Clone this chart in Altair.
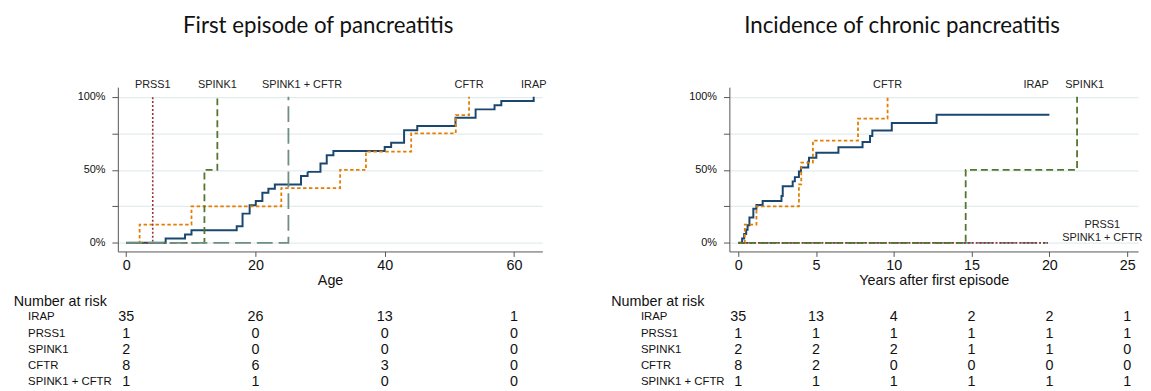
import altair as alt
import pandas as pd

# ---------------- data ----------------
groups = ["IRAP", "PRSS1", "SPINK1", "CFTR", "SPINK1 + CFTR"]
colors = ["#1a476f", "#90353b", "#55752f", "#e37e00", "#6e8e84"]
dashes = [[1, 0], [2, 2], [7, 4], [3.5, 2.5], [16, 6]]
widths = [2.0, 1.6, 1.8, 1.8, 1.8]

# Left panel: first episode of pancreatitis by age (cumulative %, step)
age_irap_t = [0, 6.1, 9.1, 10.1, 17.1, 18.0, 19.1, 20.05, 21.07, 22.0, 23.0, 27.05, 28.07,
              30.06, 31.03, 32.06, 40.0, 41.0, 43.0, 45.04, 50.96, 54.07, 57.0, 58.05, 63.06]
age_irap_p = [0, 2.9, 5.7, 8.6, 11.4, 20.0, 25.7, 28.6, 34.3, 37.1, 40.0, 45.7, 48.6,
              54.3, 60.0, 62.9, 65.7, 68.6, 77.1, 80.0, 85.7, 91.4, 94.3, 97.1, 100]
age_prss1_t = [0, 4.1]
age_prss1_p = [0, 100]
age_spink1_t = [0, 12.1, 14.1]
age_spink1_p = [0, 50, 100]
age_cftr_t = [0, 2.07, 10.1, 24.0, 33.1, 37.1, 44.1, 51.0, 53.06]
age_cftr_p = [0, 12.5, 25, 37.5, 50, 62.5, 75, 87.5, 100]
age_spc_t = [0, 25.1]
age_spc_p = [0, 100]

# Right panel: incidence of chronic pancreatitis, years after first episode
yrs_irap_t = [0, 0.25, 0.38, 0.51, 0.6, 0.72, 0.97, 1.17, 1.57, 2.78, 2.86, 3.5, 3.64,
              3.9, 4.03, 4.5, 4.55, 5.02, 6.44, 7.99, 8.47, 8.62, 9.87, 12.75, 20.0]
yrs_irap_p = [0, 2.9, 6.1, 9.0, 12.0, 17.3, 23.4, 25.9, 28.6, 32.0, 38.7, 42.1, 45.0,
              48.9, 51.6, 55.6, 58.3, 61.7, 65.5, 69.1, 73.2, 77.0, 82.0, 87.8, 87.8]
yrs_prss1_t = [0, 19.9]
yrs_prss1_p = [0, 0]
yrs_spink1_t = [0, 14.62, 21.78]
yrs_spink1_p = [0, 50, 100]
yrs_cftr_t = [0, 0.42, 1.17, 3.9, 4.05, 4.8, 7.7, 9.6]
yrs_cftr_p = [0, 12.5, 25, 40, 55, 70, 85, 100]
yrs_spc_t = [0, 19.9]
yrs_spc_p = [0, 0]

# Number at risk
age_ticks = [0, 20, 40, 60]
age_risk = {
    "IRAP": [35, 26, 13, 1],
    "PRSS1": [1, 0, 0, 0],
    "SPINK1": [2, 0, 0, 0],
    "CFTR": [8, 6, 3, 0],
    "SPINK1 + CFTR": [1, 1, 0, 0],
}
yrs_ticks = [0, 5, 10, 15, 20, 25]
yrs_risk = {
    "IRAP": [35, 13, 4, 2, 2, 1],
    "PRSS1": [1, 1, 1, 1, 1, 1],
    "SPINK1": [2, 2, 2, 1, 1, 0],
    "CFTR": [8, 2, 0, 0, 0, 0],
    "SPINK1 + CFTR": [1, 1, 1, 1, 1, 1],
}

# Curve end labels (data units)
age_label_names = ["PRSS1", "SPINK1", "SPINK1 + CFTR", "CFTR", "IRAP"]
age_label_x = [4.1, 14.1, 27.2, 53.06, 63.06]
age_label_y = [108, 108, 108, 108, 108]
yrs_label_names = ["CFTR", "IRAP", "SPINK1", "PRSS1", "SPINK1 + CFTR"]
yrs_label_x = [9.6, 19.15, 22.27, 23.4, 23.4]
yrs_label_y = [108, 108, 108, 12.2, 3.1]

# ---------------- build ----------------
FONT = "Liberation Sans"
YDOM = [-5.9, 106.6]


def curves_df(series):
    rows = []
    for g, (ts, ps) in series.items():
        for t, p in zip(ts, ps):
            rows.append({"group": g, "t": t, "p": p})
    return pd.DataFrame(rows)


def risk_df(ticks, risk):
    rows = []
    for g in groups:
        for t, n in zip(ticks, risk[g]):
            rows.append({"group": g, "t": t, "n": n})
    return pd.DataFrame(rows)


def panel(curves, order, labels, risk, ticks, xdom, width, xtitle, title, title_dx,
          nar_dx, row_dx):
    xs = alt.Scale(domain=xdom, nice=False, zero=False)
    ys = alt.Scale(domain=YDOM, nice=False, zero=False)
    xaxis = alt.Axis(values=ticks, title=xtitle, format="d", grid=False,
                     labelFontSize=14.5, titleFontSize=14.5, tickSize=5,
                     labelPadding=2, titlePadding=2, labelFlush=False,
                     labelOverlap=False)
    yaxis = alt.Axis(values=[0, 25, 50, 75, 100], title=None, grid=True,
                     labelExpr="(datum.value == 0 || datum.value == 50 || datum.value == 100) ? datum.value + '%' : ''",
                     labelFontSize=11, tickSize=6, labelPadding=7,
                     gridColor="#e2ecef", gridWidth=1.2)
    X = alt.X("t:Q", scale=xs, axis=xaxis)
    Y = alt.Y("p:Q", scale=ys, axis=yaxis)

    layers = []
    base = alt.Chart(curves)
    for g in order:
        i = groups.index(g)
        layers.append(
            base.transform_filter(alt.datum.group == g)
            .mark_line(interpolate="step-after", color=colors[i],
                       strokeDash=dashes[i], strokeWidth=widths[i])
            .encode(x=X, y=Y)
        )
    layers.append(
        alt.Chart(labels).mark_text(font=FONT, fontSize=11, color="#222222",
                                    baseline="middle")
        .encode(x=X, y=Y, text="name:N")
    )
    # number at risk table
    layers.append(
        alt.Chart(pd.DataFrame({"s": ["Number at risk"]}))
        .mark_text(font=FONT, fontSize=14.5, align="left", baseline="middle",
                   color="#111111")
        .encode(x=alt.value(nar_dx), y=alt.value(216.7), text="s:N")
    )
    for k, g in enumerate(groups):
        yoff = 232.7 + 16.4 * k
        layers.append(
            alt.Chart(pd.DataFrame({"s": [g]}))
            .mark_text(font=FONT, fontSize=11.5, align="left", baseline="middle",
                       color="#111111")
            .encode(x=alt.value(row_dx), y=alt.value(yoff), text="s:N")
        )
        layers.append(
            alt.Chart(risk).transform_filter(alt.datum.group == g)
            .mark_text(font=FONT, fontSize=14.5, baseline="middle", color="#111111")
            .encode(x=X, y=alt.value(yoff), text="n:Q")
        )
    return alt.layer(*layers).properties(
        width=width, height=166,
        title=alt.TitleParams(title, font="Lato", fontSize=22.5, fontWeight="normal",
                              anchor="middle", frame="group", dx=title_dx,
                              offset=42, color="#111111"),
    )


left_curves = curves_df({
    "IRAP": (age_irap_t, age_irap_p),
    "PRSS1": (age_prss1_t, age_prss1_p),
    "SPINK1": (age_spink1_t, age_spink1_p),
    "CFTR": (age_cftr_t, age_cftr_p),
    "SPINK1 + CFTR": (age_spc_t, age_spc_p),
})
right_curves = curves_df({
    "IRAP": (yrs_irap_t, yrs_irap_p),
    "PRSS1": (yrs_prss1_t, yrs_prss1_p),
    "SPINK1": (yrs_spink1_t, yrs_spink1_p),
    "CFTR": (yrs_cftr_t, yrs_cftr_p),
    "SPINK1 + CFTR": (yrs_spc_t, yrs_spc_p),
})

left_labels = pd.DataFrame({"name": age_label_names, "t": age_label_x, "p": age_label_y})
right_labels = pd.DataFrame({"name": yrs_label_names, "t": yrs_label_x, "p": yrs_label_y})

left = panel(left_curves, ["IRAP", "CFTR", "PRSS1", "SPINK1", "SPINK1 + CFTR"],
             left_labels, risk_df(age_ticks, age_risk), age_ticks, [-1.3, 64.4], 429,
             "Age", "First episode of pancreatitis", -12, -105.3, -90.7)
right = panel(right_curves, ["SPINK1 + CFTR", "IRAP", "CFTR", "PRSS1", "SPINK1"],
              right_labels, risk_df(yrs_ticks, yrs_risk), yrs_ticks, [-0.57, 25.7], 413,
              "Years after first episode", "Incidence of chronic pancreatitis", -32,
              -119.4, -89.4)

chart = (
    alt.hconcat(left, right, spacing=64)
    .properties(padding={"left": 5, "top": 5, "right": 0, "bottom": 0},
                background="white")
    .configure_view(stroke=None)
    .configure_axis(domainColor="#555555", tickColor="#555555", domainWidth=1,
                    tickWidth=1, labelFont=FONT, titleFont=FONT,
                    labelColor="#111111", titleColor="#111111",
                    titleFontWeight="normal")
)

chart.save("out.html", embed_options={"renderer": "svg", "actions": False})
